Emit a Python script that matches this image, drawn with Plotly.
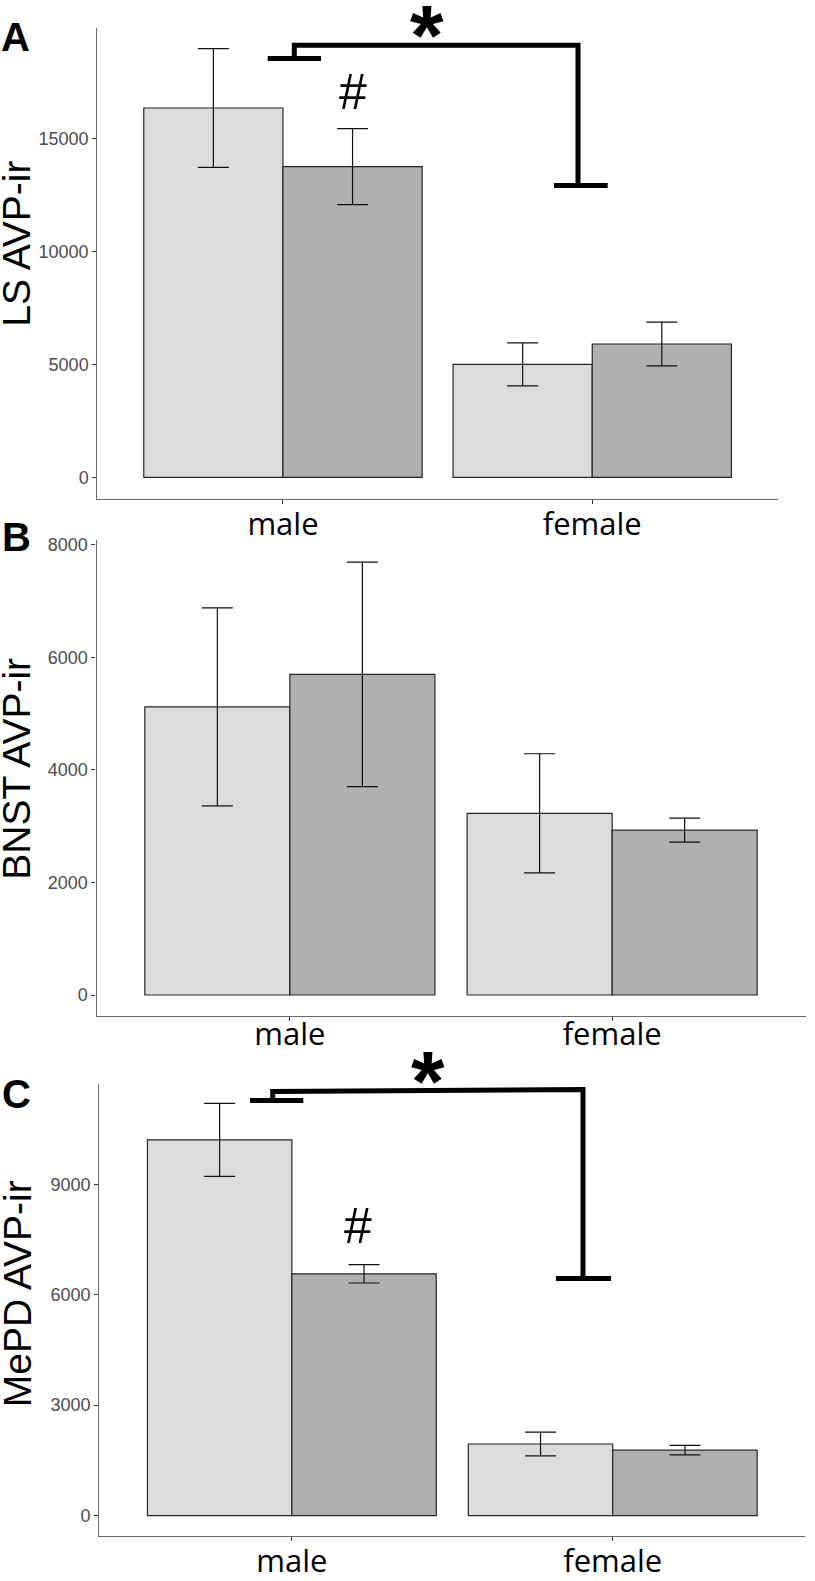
import plotly.graph_objects as go

W, H = 815, 1581

# ---------------- data ----------------
categories = ["male", "female"]

ls_light = [16360, 5010]
ls_light_se = [2630, 950]
ls_dark = [13765, 5910]
ls_dark_se = [1680, 965]

bnst_light = [5120, 3230]
bnst_light_se = [1760, 1058]
bnst_dark = [5700, 2930]
bnst_dark_se = [1995, 214]

mepd_light = [10210, 1945]
mepd_light_se = [993, 323]
mepd_dark = [6570, 1778]
mepd_dark_se = [250, 127]

y_titles = ["LS AVP-ir", "BNST AVP-ir", "MePD AVP-ir"]
panel_letters = ["A", "B", "C"]
tick_vals = [[0, 5000, 10000, 15000], [0, 2000, 4000, 6000, 8000], [0, 3000, 6000, 9000]]

# ---------------- layout helpers (pixels) ----------------
def PX(x):
    return x / W

def PY(y):
    return 1 - y / H

panels = [
    dict(x=(97.4, 777.8), y=(23, 498.7), yr=(-952, 19912), standoff=-6),
    dict(x=(96.5, 805.5), y=(540.4, 1020.5), yr=(-370, 8083), standoff=-13),
    dict(x=(99.3, 805.3), y=(1089, 1546), yr=(-565, 11738), standoff=-7),
]
series = [
    (ls_light, ls_light_se, ls_dark, ls_dark_se),
    (bnst_light, bnst_light_se, bnst_dark, bnst_dark_se),
    (mepd_light, mepd_light_se, mepd_dark, mepd_dark_se),
]

LIGHT = "#DCDCDC"
DARK = "#B0B0B0"
OUTLINE = "#262626"

fig = go.Figure()
layout = dict(
    width=W, height=H, autosize=False,
    margin=dict(l=0, r=0, t=0, b=0),
    paper_bgcolor="white", plot_bgcolor="white",
    barmode="group", bargap=0.1, bargroupgap=0,
    showlegend=False,
)

for i, (p, s) in enumerate(zip(panels, series)):
    xa = "x" if i == 0 else f"x{i+1}"
    ya = "y" if i == 0 else f"y{i+1}"
    light, light_se, dark, dark_se = s
    for vals, se, col in ((light, light_se, LIGHT), (dark, dark_se, DARK)):
        fig.add_trace(go.Bar(
            x=categories, y=vals, xaxis=xa, yaxis=ya,
            marker=dict(color=col, line=dict(color=OUTLINE, width=1.2)),
            error_y=dict(type="data", array=se, color="#111111", thickness=1.2, width=15.5),
        ))
    xkey = "xaxis" if i == 0 else f"xaxis{i+1}"
    ykey = "yaxis" if i == 0 else f"yaxis{i+1}"
    layout[xkey] = dict(
        domain=[PX(p["x"][0]), PX(p["x"][1])], anchor=ya,
        type="category", range=[-0.6, 1.6],
        showline=True, linecolor="#6a6a6a", linewidth=1.3,
        ticks="outside", ticklen=4, tickcolor="#333333", tickwidth=1,
        ticklabelstandoff=p["standoff"],
        showgrid=False, zeroline=False,
        tickfont=dict(family="Open Sans", size=31, color="black"),
        fixedrange=True,
    )
    layout[ykey] = dict(
        domain=[PY(p["y"][1]), PY(p["y"][0])], anchor=xa,
        range=list(p["yr"]),
        tickvals=tick_vals[i], ticktext=[str(v) for v in tick_vals[i]],
        showline=True, linecolor="#6a6a6a", linewidth=1.3,
        ticks="outside", ticklen=4, tickcolor="#333333", tickwidth=1,
        showgrid=False, zeroline=False,
        tickfont=dict(family="Liberation Sans, Arial", size=18, color="#4D4D4D"),
        fixedrange=True,
    )

annotations = []
# y-axis titles
title_pos = [(17, 241), (17, 771), (17, 1301.5)]
for t, (x, y) in zip(y_titles, title_pos):
    annotations.append(dict(
        text=t, x=PX(x), y=PY(y), xref="paper", yref="paper",
        xanchor="center", yanchor="middle", textangle=-90, showarrow=False,
        font=dict(family="Liberation Sans, Arial", size=39, color="black"),
    ))
# panel letters
letter_pos = [(15.5, 32.5), (16, 537.5), (16, 1099)]
for t, (x, y) in zip(panel_letters, letter_pos):
    annotations.append(dict(
        text=f"<b>{t}</b>", x=PX(x), y=PY(y), xref="paper", yref="paper",
        xanchor="center", yanchor="middle", showarrow=False,
        font=dict(family="Liberation Sans, Arial", size=40, color="black"),
    ))
# significance marks
for (x, y) in [(427, 30), (428.5, 1086)]:
    annotations.append(dict(
        text="<b>*</b>", x=PX(x), y=PY(y), xref="paper", yref="paper",
        xanchor="center", yanchor="middle", showarrow=False,
        font=dict(family="Liberation Sans, Arial", size=86, color="black"),
    ))
for (x, y) in [(353, 88), (357.5, 1233)]:
    annotations.append(dict(
        text="#", x=PX(x), y=PY(y), xref="paper", yref="paper",
        xanchor="center", yanchor="middle", showarrow=False,
        font=dict(family="Liberation Sans, Arial", size=50, color="black"),
    ))
layout["annotations"] = annotations

# brackets (pixel paths)
brackets = [
    [(267.7, 54), (321, 54)],
    [(294.3, 54), (294.3, 40.7), (578, 40.7), (578, 182.3)],
    [(554, 182.3), (607.7, 182.3)],
    [(250, 1106), (303.3, 1106)],
    [(272.7, 1106), (272.7, 1097), (583, 1095), (583, 1285.7)],
    [(556, 1285.7), (611, 1285.7)],
]
shapes = []
for pts in brackets:
    path = "M " + " L ".join(f"{PX(x):.5f},{PY(y):.5f}" for x, y in pts)
    shapes.append(dict(type="path", path=path, xref="paper", yref="paper",
                       line=dict(color="black", width=5), layer="above"))
layout["shapes"] = shapes

fig.update_layout(**layout)
fig.write_html(
    "out.html",
    config=dict(displayModeBar=False),
    post_script="document.body.style.margin='0';document.body.style.padding='0';",
)
